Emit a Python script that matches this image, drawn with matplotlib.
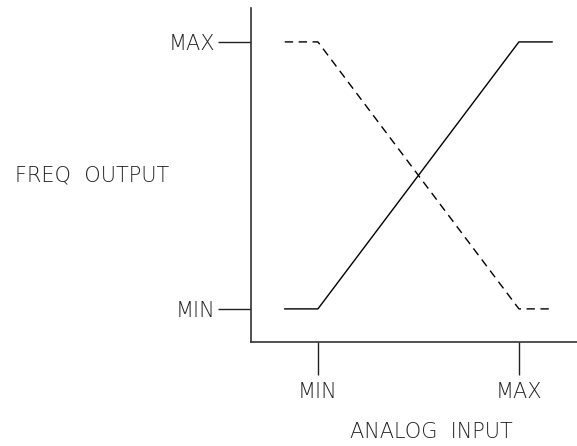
import matplotlib
matplotlib.use("Agg")
import matplotlib.pyplot as plt

# Data
x_points = [-0.165, 0.0, 1.0, 1.165]
freq_increasing = [0.0, 0.0, 1.0, 1.0]
freq_decreasing = [1.0, 1.0, 0.0, 0.0]
x_ticks = [0.0, 1.0]
x_tick_labels = ["MIN", "MAX"]
y_ticks = [0.0, 1.0]
y_tick_labels = ["MIN", "MAX"]

W, H = 577, 446
fig = plt.figure(figsize=(W / 100, H / 100), dpi=100)
plt.rcParams['font.family'] = ['DejaVu Sans']

left_px, right_px, bottom_px, top_px = 251, 577, 342, 8
ax = fig.add_axes([left_px / W, 1 - bottom_px / H, (right_px - left_px) / W, (bottom_px - top_px) / H])

ax.plot(x_points, freq_increasing, color="black", lw=1.0)
ax.plot(x_points, freq_decreasing, color="black", lw=1.0, dashes=(6, 4))

ax.set_xlim(-0.333, 1.289)
ax.set_ylim(-0.124, 1.127)

for s in ["top", "right"]:
    ax.spines[s].set_visible(False)
for s in ["left", "bottom"]:
    ax.spines[s].set_color("#333333")
    ax.spines[s].set_linewidth(1.2)

fs = 15
tkw = dict(fontsize=fs, fontweight="light", color="#222222")
ax.set_xticks(x_ticks)
ax.set_xticklabels(x_tick_labels, **tkw)
ax.set_yticks(y_ticks)
ax.set_yticklabels(y_tick_labels, **tkw)
ax.tick_params(axis="x", length=24, width=1.0, pad=5.0, color="#222222")
ax.tick_params(axis="y", length=24, width=1.0, pad=1.5, color="#222222")

fig.text(15 / W, 1 - 175 / H, "FREQ  OUTPUT", ha="left", va="center", **tkw)
fig.text(431 / W, 1 - 432 / H, "ANALOG  INPUT", ha="center", va="center", **tkw)

fig.savefig("out.png", dpi=100)
